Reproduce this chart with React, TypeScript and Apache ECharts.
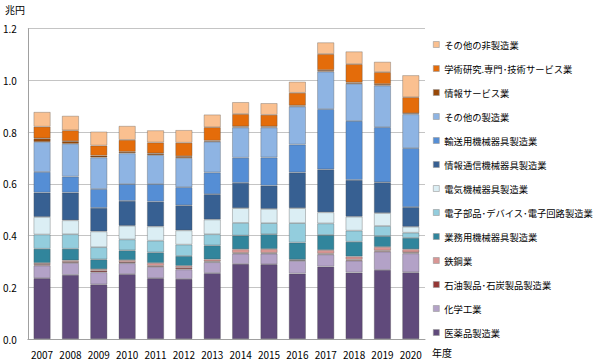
import React, { useEffect, useRef } from "react";
import * as echarts from "echarts";

const years = ["2007", "2008", "2009", "2010", "2011", "2012", "2013", "2014", "2015", "2016", "2017", "2018", "2019", "2020"];

// stacking order: bottom -> top
const seriesNames = [
  "医薬品製造業",
  "化学工業",
  "石油製品･石炭製品製造業",
  "鉄鋼業",
  "業務用機械器具製造業",
  "電子部品･デバイス･電子回路製造業",
  "電気機械器具製造業",
  "情報通信機械器具製造業",
  "輸送用機械器具製造業",
  "その他の製造業",
  "情報サービス業",
  "学術研究.専門･技術サービス業",
  "その他の非製造業",
];

const seriesColors = [
  "#604A7B", "#B3A2C7", "#953735", "#D99694", "#31859C", "#93CDDD", "#DBEEF4",
  "#376092", "#558ED5", "#8EB4E3", "#984807", "#E46C0A", "#FAC090",
];

const pharma = [0.235, 0.248, 0.211, 0.251, 0.235, 0.232, 0.255, 0.290, 0.289, 0.253, 0.280, 0.257, 0.267, 0.258];
const chemical = [0.049, 0.046, 0.047, 0.042, 0.044, 0.037, 0.042, 0.040, 0.041, 0.049, 0.047, 0.046, 0.071, 0.073];
const petroleum = [0.005, 0.004, 0.006, 0.004, 0.004, 0.006, 0.003, 0.003, 0.003, 0.003, 0.003, 0.004, 0.004, 0.004];
const steel = [0.005, 0.006, 0.006, 0.008, 0.011, 0.008, 0.008, 0.014, 0.015, 0.002, 0.014, 0.012, 0.014, 0.012];
const businessMachinery = [0.055, 0.045, 0.038, 0.038, 0.041, 0.038, 0.054, 0.053, 0.057, 0.066, 0.058, 0.057, 0.042, 0.044];
const electronicParts = [0.055, 0.056, 0.047, 0.042, 0.045, 0.044, 0.043, 0.049, 0.043, 0.075, 0.045, 0.043, 0.039, 0.020];
const electricalMachinery = [0.068, 0.054, 0.061, 0.053, 0.055, 0.055, 0.057, 0.057, 0.055, 0.058, 0.043, 0.054, 0.050, 0.023];
const infoCommMachinery = [0.094, 0.107, 0.091, 0.096, 0.096, 0.097, 0.098, 0.098, 0.090, 0.138, 0.166, 0.142, 0.119, 0.076];
const transportMachinery = [0.080, 0.062, 0.073, 0.065, 0.068, 0.070, 0.084, 0.097, 0.109, 0.108, 0.233, 0.228, 0.213, 0.228];
const otherManufacturing = [0.116, 0.127, 0.122, 0.119, 0.112, 0.113, 0.119, 0.117, 0.116, 0.147, 0.145, 0.144, 0.161, 0.131];
const infoServices = [0.014, 0.010, 0.007, 0.006, 0.007, 0.007, 0.004, 0.004, 0.004, 0.004, 0.006, 0.005, 0.006, 0.004];
const academicResearch = [0.045, 0.042, 0.039, 0.046, 0.042, 0.052, 0.052, 0.048, 0.045, 0.049, 0.062, 0.071, 0.046, 0.062];
const otherNonManufacturing = [0.057, 0.056, 0.054, 0.054, 0.047, 0.049, 0.049, 0.046, 0.045, 0.043, 0.045, 0.049, 0.040, 0.085];

const seriesData = [
  pharma, chemical, petroleum, steel, businessMachinery, electronicParts, electricalMachinery,
  infoCommMachinery, transportMachinery, otherManufacturing, infoServices, academicResearch, otherNonManufacturing,
];

const yTicks = [0, 0.2, 0.4, 0.6, 0.8, 1.0, 1.2];
const yUnit = "兆円";
const xUnit = "年度";

const FONT = "'Noto Sans CJK JP', 'Noto Sans', sans-serif";

export default function App() {
  const ref = useRef<HTMLDivElement>(null);

  useEffect(() => {
    if (!ref.current) return;
    const chart = echarts.init(ref.current, undefined, { renderer: "svg" });
    chart.setOption({
      animation: false,
      backgroundColor: "#ffffff",
      textStyle: { fontFamily: FONT },
      grid: { left: 27.5, right: 175, top: 28.7, bottom: 23 },
      legend: {
        orient: "vertical",
        left: 428,
        top: 33,
        itemWidth: 6,
        itemHeight: 6,
        itemGap: 11,
        icon: "rect",
        data: [...seriesNames].reverse(),
        textStyle: { fontSize: 9.3, color: "#000", lineHeight: 13, fontFamily: FONT },
        itemStyle: { borderColor: "#999", borderWidth: 0.6 },
        selectedMode: false,
      },
      xAxis: {
        type: "category",
        data: years,
        axisLine: { show: true, lineStyle: { color: "#a0a0a0", width: 1 } },
        axisTick: { show: false },
        axisLabel: { fontSize: 10, color: "#000", margin: 10, interval: 0, fontFamily: FONT },
      },
      yAxis: {
        type: "value",
        min: yTicks[0],
        max: yTicks[yTicks.length - 1],
        interval: 0.2,
        axisLine: { show: true, lineStyle: { color: "#a0a0a0", width: 1 } },
        axisTick: { show: false },
        splitLine: { show: true, lineStyle: { color: "#c4c4c4", width: 1 } },
        axisLabel: {
          fontSize: 10,
          color: "#000",
          margin: 11,
          fontFamily: FONT,
          formatter: (v: number) => v.toFixed(1),
        },
      },
      graphic: [
        {
          type: "text",
          left: 5,
          top: 4,
          style: { text: yUnit, fontSize: 10, fill: "#000", fontFamily: FONT },
        },
        {
          type: "text",
          left: 432,
          top: 347,
          style: { text: xUnit, fontSize: 10, fill: "#000", fontFamily: FONT },
        },
      ],
      series: seriesNames.map((name, i) => ({
        name,
        type: "bar",
        stack: "total",
        barWidth: 17,
        data: seriesData[i],
        itemStyle: {
          color: seriesColors[i],
          borderColor: "rgba(70,70,70,0.45)",
          borderWidth: 0.7,
        },
      })),
    });
    return () => chart.dispose();
  }, []);

  return (
    <div
      ref={ref}
      style={{ position: "fixed", left: 0, top: 0, width: 600, height: 362, background: "#fff" }}
    />
  );
}
